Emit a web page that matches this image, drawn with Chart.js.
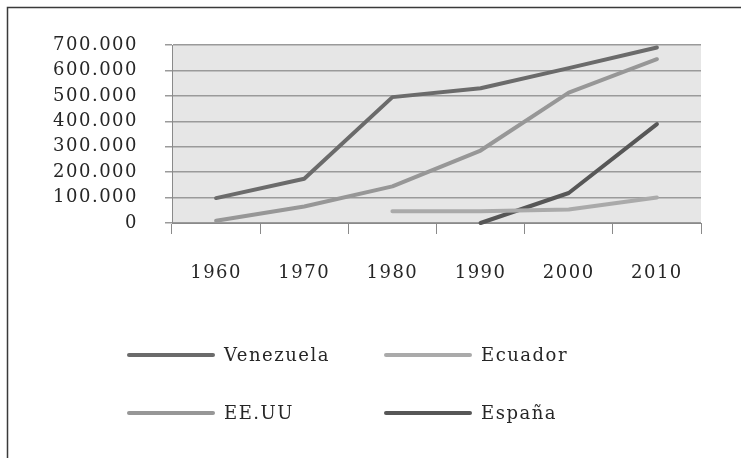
<!DOCTYPE html>
<html>
<head>
<meta charset="utf-8">
<style>
  html, body { margin: 0; padding: 0; background: #fff; }
  #wrap { width: 741px; height: 458px; }
</style>
<script src="https://cdn.jsdelivr.net/npm/chart.js@4/dist/chart.umd.min.js"></script>
</head>
<body>
<div id="wrap"><canvas id="my-chart" width="741" height="458"></canvas></div>
<script>
const years = ['1960', '1970', '1980', '1990', '2000', '2010'];
const venezuela = [98000, 174000, 495000, 530000, 609000, 690000];
const ecuador = [null, null, 46000, 46000, 53000, 100000];
const eeuu = [9000, 65000, 144000, 285000, 513000, 644000];
const espana = [null, null, null, 0, 118000, 389000];
const yTicks = [0, 100000, 200000, 300000, 400000, 500000, 600000, 700000];

const FONT = { family: 'DejaVu Serif', size: 18 };
const TEXT = '#262626';
const SPACING = '1.5px';

function fmt(v) {
  return String(v).replace(/\B(?=(\d{3})+(?!\d))/g, '.');
}

// letter spacing + plot background + frame + grid legend
const bookLook = {
  id: 'bookLook',
  beforeUpdate(chart) { chart.ctx.letterSpacing = SPACING; },
  beforeDraw(chart) {
    const ctx = chart.ctx, a = chart.chartArea;
    ctx.letterSpacing = SPACING;
    ctx.save();
    ctx.fillStyle = '#e6e6e6';
    ctx.fillRect(a.left, a.top, a.right - a.left, a.bottom - a.top);
    ctx.restore();
  },
  afterDraw(chart) {
    const ctx = chart.ctx;
    ctx.save();
    // frame
    ctx.strokeStyle = '#3a3a3a';
    ctx.lineWidth = 1.5;
    ctx.beginPath();
    ctx.moveTo(7.5, 458);
    ctx.lineTo(7.5, 7.5);
    ctx.lineTo(741, 7.5);
    ctx.stroke();
    // legend, two columns
    const cols = [127, 384], rows = [355, 413];
    ctx.font = FONT.size + 'px "' + FONT.family + '"';
    ctx.textBaseline = 'middle';
    ctx.textAlign = 'left';
    chart.data.datasets.forEach((ds, i) => {
      const x = cols[i % 2], y = rows[Math.floor(i / 2)];
      ctx.strokeStyle = ds.borderColor;
      ctx.lineWidth = 4;
      ctx.lineCap = 'round';
      ctx.beginPath();
      ctx.moveTo(x + 2, y);
      ctx.lineTo(x + 86, y);
      ctx.stroke();
      ctx.fillStyle = TEXT;
      ctx.fillText(ds.label, x + 97, y + 1);
    });
    ctx.restore();
  }
};

function line(label, data, color) {
  return {
    label: label,
    data: data,
    borderColor: color,
    backgroundColor: color,
    borderWidth: 4,
    pointRadius: 0,
    pointHoverRadius: 0,
    tension: 0,
    borderCapStyle: 'round',
    borderJoinStyle: 'round',
    clip: false
  };
}

const ctx = document.getElementById('my-chart').getContext('2d');
const chart = new Chart(ctx, {
  type: 'line',
  data: {
    labels: years,
    datasets: [
      line('Venezuela', venezuela, '#6b6b6b'),
      line('Ecuador', ecuador, '#aaaaaa'),
      line('EE.UU', eeuu, '#979797'),
      line('España', espana, '#575757')
    ]
  },
  options: {
    responsive: false,
    animation: false,
    events: [],
    layout: { padding: { left: 42, top: 45, right: 40, bottom: 0 } },
    plugins: {
      legend: { display: false },
      tooltip: { enabled: false }
    },
    scales: {
      x: {
        offset: true,
        grid: {
          offset: true,
          drawOnChartArea: false,
          drawTicks: true,
          tickLength: 11,
          color: '#8a8a8a'
        },
        border: { display: true, color: '#8a8a8a' },
        ticks: { color: TEXT, font: FONT, padding: 29, maxRotation: 0, autoSkip: false },
        afterFit(s) { s.height = 235; }
      },
      y: {
        min: 0,
        max: 700000,
        afterBuildTicks(s) { s.ticks = yTicks.map(v => ({ value: v })); },
        grid: { color: '#9a9a9a', lineWidth: 1.5, tickLength: 7 },
        border: { display: true, color: '#8a8a8a' },
        ticks: {
          color: TEXT,
          font: FONT,
          padding: 27,
          callback: v => fmt(v)
        },
        afterFit(s) { s.width = 130; }
      }
    }
  },
  plugins: [bookLook]
});
</script>
</body>
</html>
